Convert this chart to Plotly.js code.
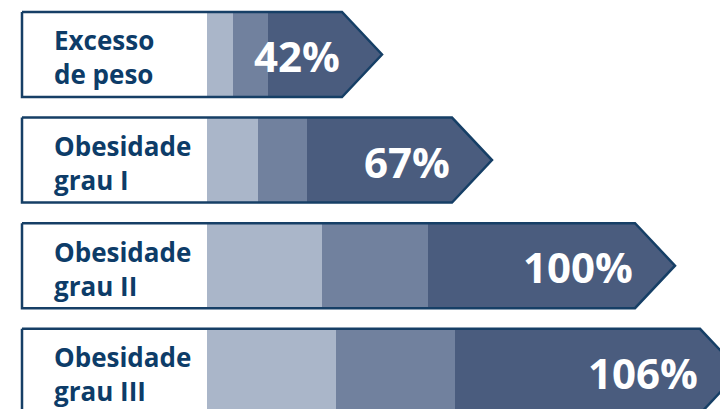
<!DOCTYPE html>
<html>
<head>
<meta charset="utf-8">
<script src="https://cdn.plot.ly/plotly-3.0.1.min.js"></script>
<style>html,body{margin:0;padding:0;background:#fff;}#chart{width:720px;height:409px;}</style>
</head>
<body>
<div id="chart"></div>
<script>
// ---- data ----
const categoryLines = [["Excesso", "de peso"], ["Obesidade", "grau I"], ["Obesidade", "grau II"], ["Obesidade", "grau III"]];
const pctLabels = ["42%", "67%", "100%", "106%"];
const labelWidth = [185, 185, 185, 185];   // white label box
const segLight = [26, 51, 115, 129];
const segMid = [35, 49, 106, 119];
const segDark = [74, 145, 207, 245];
const rows = [0, 1, 2, 3];

// ---- styles ----
const C_BORDER = "#163f66";
const C_TEXT = "#0d3c68";
const C_LIGHT = "#aab6c9";
const C_MID = "#71819e";
const C_DARK = "#4a5c7e";
const BAR_W = 0.805;
const TIP = 40;
const FONT = "'Open Sans', Lato, sans-serif";

const ends = rows.map(i => labelWidth[i] + segLight[i] + segMid[i] + segDark[i]);
const h = BAR_W / 2;

const barTrace = (vals, color) => ({
  type: "bar", orientation: "h", y: rows, x: vals, width: BAR_W,
  marker: {color: color, line: {width: 0}}, hoverinfo: "skip", showlegend: false
});

const tipX = [], tipY = [], outX = [], outY = [];
rows.forEach(i => {
  const e = ends[i];
  tipX.push(e - 1, e + TIP, e - 1, null);
  tipY.push(i - h, i, i + h, null);
  outX.push(0, e, e + TIP, e, 0, 0, null);
  outY.push(i - h, i - h, i, i + h, i + h, i - h, null);
});

const traces = [
  barTrace(labelWidth, "#ffffff"),
  barTrace(segLight, C_LIGHT),
  barTrace(segMid, C_MID),
  barTrace(segDark, C_DARK),
  {type: "scatter", mode: "lines", x: tipX, y: tipY, fill: "toself", fillcolor: C_DARK,
   line: {color: C_DARK, width: 0.5}, hoverinfo: "skip", showlegend: false},
  {type: "scatter", mode: "lines", x: outX, y: outY,
   line: {color: C_BORDER, width: 2.5, shape: "linear"}, hoverinfo: "skip", showlegend: false}
];

const annotations = [];
rows.forEach(i => {
  annotations.push({x: 30, y: i, xref: "x", yref: "y", xanchor: "left", yanchor: "middle",
    align: "left",
    text: "<b>" + categoryLines[i][0] + "</b><br><b>" + categoryLines[i][1] + "</b>",
    showarrow: false, yshift: -3,
    font: {family: FONT, size: 26, color: C_TEXT}});
  annotations.push({x: ends[i], y: i, xref: "x", yref: "y", xanchor: "right", yanchor: "middle",
    text: "<b>" + pctLabels[i] + "</b>", showarrow: false, yshift: -1,
    font: {family: FONT, size: 42, color: "#ffffff"}});
});

const layout = {
  width: 720, height: 409,
  margin: {l: 0, r: 0, t: 0, b: 0, pad: 0},
  paper_bgcolor: "#ffffff", plot_bgcolor: "#ffffff",
  barmode: "stack", bargap: 0,
  xaxis: {range: [-22, 698], visible: false, fixedrange: true},
  yaxis: {range: [3.357, -0.516], visible: false, fixedrange: true},
  annotations: annotations,
  showlegend: false
};

Plotly.newPlot("chart", traces, layout, {staticPlot: true, displayModeBar: false});
</script>
</body>
</html>
